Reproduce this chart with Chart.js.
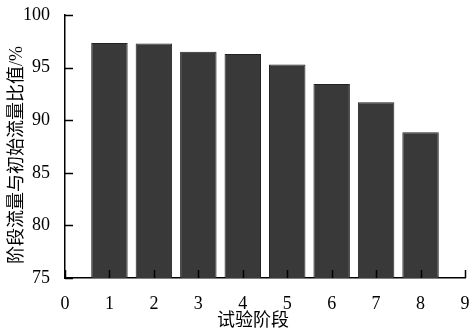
<!DOCTYPE html>
<html lang="zh">
<head>
<meta charset="UTF-8">
<title>阶段流量与初始流量比值</title>
<script src="https://cdn.jsdelivr.net/npm/chart.js"></script>
<style>
    html, body { margin: 0; padding: 0; background: #fff; }
    .chart-box { position: relative; width: 472px; height: 332px; }
</style>
</head>
<body>
<div class="chart-box"><canvas id="ratioChart"></canvas></div>
<script>
    const stages = [1, 2, 3, 4, 5, 6, 7, 8];
    const ratios = [97.35, 97.3, 96.5, 96.3, 95.3, 93.45, 91.7, 88.85];
    const xTicks = [0, 1, 2, 3, 4, 5, 6, 7, 8, 9];
    const yTicks = [75, 80, 85, 90, 95, 100];
    const xTitle = '试验阶段';
    const yTitle = '阶段流量与初始流量比值/%';

    const serif = '"Liberation Serif", "Times New Roman", "Noto Sans CJK SC", serif';

    // ticks point into the plot, titles placed by hand
    const innerTicks = {
        id: 'innerTicks',
        afterDraw(chart) {
            const { ctx, chartArea: a, scales: { x, y } } = chart;
            ctx.save();
            ctx.strokeStyle = '#000';
            ctx.lineWidth = 1.5;
            ctx.beginPath();
            x.ticks.forEach(t => {
                const px = Math.round(x.getPixelForValue(t.value)) + 0.5;
                ctx.moveTo(px, a.bottom);
                ctx.lineTo(px, a.bottom - 8);
            });
            y.ticks.forEach(t => {
                const py = Math.round(y.getPixelForValue(t.value)) + 0.5;
                ctx.moveTo(a.left, py);
                ctx.lineTo(a.left + 8, py);
            });
            ctx.stroke();

            ctx.fillStyle = '#000';
            ctx.font = '18px "Liberation Serif", "Noto Sans CJK SC", serif';
            ctx.textAlign = 'center';
            ctx.textBaseline = 'middle';
            ctx.fillText(xTitle, 253, 321);
            ctx.translate(17, 155);
            ctx.rotate(-Math.PI / 2);
            ctx.fillText(yTitle, 0, 0);
            ctx.restore();
        }
    };

    new Chart(document.getElementById('ratioChart'), {
        type: 'bar',
        data: {
            datasets: [{
                data: stages.map((s, i) => ({ x: s, y: ratios[i] })),
                backgroundColor: '#393939',
                borderColor: '#222',
                borderWidth: 1,
                barPercentage: 0.82,
                categoryPercentage: 1
            }]
        },
        options: {
            responsive: true,
            maintainAspectRatio: false,
            animation: false,
            layout: { padding: { top: 15, right: 7, left: 0, bottom: 0 } },
            plugins: {
                legend: { display: false },
                tooltip: { enabled: false }
            },
            scales: {
                x: {
                    type: 'linear',
                    min: xTicks[0],
                    max: xTicks[xTicks.length - 1],
                    offset: false,
                    afterBuildTicks: s => { s.ticks = xTicks.map(v => ({ value: v })); },
                    afterFit: s => { s.height = 54; s.paddingLeft = 0; s.paddingRight = 0; },
                    grid: { display: false },
                    border: { display: true, color: '#000', width: 1.5 },
                    ticks: {
                        color: '#000',
                        padding: 7,
                        maxRotation: 0,
                        font: { family: serif, size: 18 }
                    }
                },
                y: {
                    min: yTicks[0],
                    max: yTicks[yTicks.length - 1],
                    afterBuildTicks: s => { s.ticks = yTicks.map(v => ({ value: v })); },
                    afterFit: s => { s.width = 65; s.paddingTop = 0; s.paddingBottom = 0; },
                    grid: { display: false },
                    border: { display: true, color: '#000', width: 1.5 },
                    ticks: {
                        color: '#000',
                        padding: 7,
                        font: { family: serif, size: 18 }
                    }
                }
            }
        },
        plugins: [innerTicks]
    });
</script>
</body>
</html>
